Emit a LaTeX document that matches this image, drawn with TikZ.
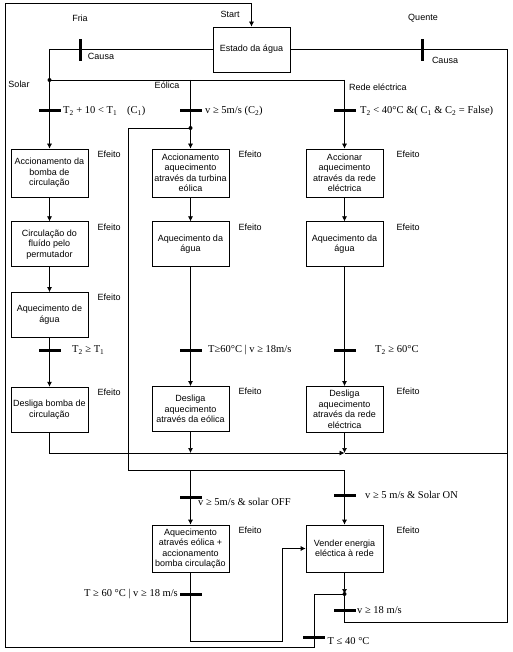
\documentclass[tikz,border=0pt]{standalone}
\usepackage{fontspec}
\setmainfont{Liberation Sans}
\newfontfamily\condfont{Liberation Serif}
\usetikzlibrary{arrows.meta,positioning}

\begin{document}
\begin{tikzpicture}[
  x=1pt, y=-1pt,
  line width=0.7pt,
  box/.style={draw, minimum width=77pt, minimum height=45pt, align=center, inner sep=1pt, font=\fontsize{9}{10.5}\selectfont},
  arr/.style={-{Latex[length=5pt, width=5pt]}},
  tbar/.style={fill, draw=none, minimum width=22pt, minimum height=3pt, inner sep=0pt},
  vtbar/.style={tbar, minimum width=3pt, minimum height=22pt},
  cond/.style={font=\condfont\fontsize{10.5}{12}\selectfont, inner sep=0pt},
  lbl/.style={font=\fontsize{9}{10.5}\selectfont, inner sep=0pt},
  efeito/.style={lbl, anchor=north west},
  jdot/.style={circle, fill, inner sep=0pt, minimum size=4pt}
]
\useasboundingbox (0,0) rectangle (512,652);

% boxes
\node[box] (estado) at (251.5,49.5) {Estado da água};

\node[box, minimum height=48pt] (sol1) at (49.5,173) {Accionamento da\\bomba de\\circulação};
\node[box, below=24pt of sol1] (sol2) {Circulação do\\fluído pelo\\permutador};
\node[box, below=25pt of sol2] (sol3) {Aquecimento de\\água};
\node[box, below=49pt of sol3] (sol4) {Desliga bomba de\\circulação};

\node[box, minimum height=48pt] (eol1) at (190.5,173) {Accionamento\\aquecimento\\através da turbina\\eólica};
\node[box, below=24pt of eol1] (eol2) {Aquecimento da\\água};
\node[box, below=119pt of eol2] (eol4) {Desliga\\aquecimento\\através da eólica};

\node[box, minimum height=48pt] (rede1) at (344.5,173) {Accionar\\aquecimento\\através da rede\\eléctrica};
\node[box, below=24pt of rede1] (rede2) {Aquecimento da\\água};
\node[box, below=119pt of rede2, minimum height=46pt] (rede4) {Desliga\\aquecimento\\através da rede\\eléctrica};

\node[box, minimum height=47pt] (mix) at (190.5,548.5) {Aquecimento\\através eólica +\\accionamento\\bomba circulação};
\node[box, minimum height=47pt] (vender) at (344.5,548.5) {Vender energia\\eléctica à rede};

\foreach \b in {sol1,sol2,sol3,sol4,eol1,eol2,eol4,mix}
  \node[efeito] (ef-\b) at ([xshift=9pt,yshift=-2pt]\b.north east) {Efeito};
\foreach \b in {rede1,rede2,rede4,vender}
  \node[efeito] (ef-\b) at ([xshift=13pt,yshift=-2pt]\b.north east) {Efeito};

% junctions
\coordinate (jsol) at (49.5,80);
\coordinate (jeol) at (190.5,80);
\coordinate (jrede) at (344.5,80);
\coordinate (jc2) at (190.5,128);
\coordinate (kc2) at (128,470);
\coordinate (jmix) at (190.5,470);
\coordinate (jven) at (344.5,470);
\coordinate (jdes) at (344.5,453);
\coordinate (kdes) at (507,453);
\coordinate (kmix) at (282,641);
\coordinate (jv) at (344.5,594);
\coordinate (kbr) at (507,622);
\coordinate (kfb) at (314,647);
\coordinate (kft) at (5,3);

% connectors
\draw (estado.west) -| (jsol);
\draw (jsol) -- (jrede);
\draw[arr] (jsol) -- (sol1);
\draw[arr] (jeol) -- (eol1);
\draw[arr] (jrede) -- (rede1);
\draw[arr] (sol1) -- (sol2);
\draw[arr] (sol2) -- (sol3);
\draw[arr] (sol3) -- (sol4);
\draw[arr] (eol1) -- (eol2);
\draw[arr] (eol2) -- (eol4);
\draw[arr] (rede1) -- (rede2);
\draw[arr] (rede2) -- (rede4);
\draw[arr] (sol4) |- (jdes);
\draw[arr] (eol4) -- (eol4 |- jdes);
\draw[arr] (rede4) -- (jdes);
\draw (jdes) -- (kdes);
\draw (jc2) -| (kc2) -- (jven);
\draw[arr] (jmix) -- (mix);
\draw[arr] (jven) -- (vender);
\draw[arr] (mix) |- (kmix) |- (vender.west);
\draw[arr] (vender) -- (jv);
\draw (jv) |- (kbr) |- (estado.east);
\draw[arr] (jv) -| (kfb) -| (kft) -| (estado.north);

\node[jdot] (d-sol) at (jsol) {};
\node[jdot] (d-c2) at (jc2) {};
\node[jdot] (d-v) at (jv) {};

% transitions
\node[vtbar] (bfria) at (80,50) {};
\node[vtbar] (bquente) at (422,50) {};
\node[tbar] (bsol1) at (49.5,111) {};
\node[tbar] (beol1) at (190.5,111) {};
\node[tbar] (brede1) at (344.5,111) {};
\node[tbar] (bsol3) at (49.5,350) {};
\node[tbar] (beol2) at (190.5,350) {};
\node[tbar] (brede2) at (344.5,350) {};
\node[tbar] (bmix) at (190.5,497) {};
\node[tbar] (bven) at (344.5,495) {};
\node[tbar] (bmixout) at (190.5,594) {};
\node[tbar] (bvout) at (344.5,610) {};
\node[tbar] (btemp) at (314,637) {};

\node[cond, right=2pt of bsol1] (csol1) {T\textsubscript{2} + 10 < T\textsubscript{1}\hspace{10pt}(C\textsubscript{1})};
\node[cond, right=3pt of beol1] (ceol1) {v ≥ 5m/s (C\textsubscript{2})};
\node[cond, right=4pt of brede1] (crede1) {T\textsubscript{2} < 40°C \&( C\textsubscript{1} \& C\textsubscript{2} = False)};
\node[cond, right=11pt of bsol3] (csol3) {T\textsubscript{2} ≥ T\textsubscript{1}};
\node[cond, right=6pt of beol2] (ceol2) {T≥60°C | v ≥ 18m/s};
\node[cond, right=19pt of brede2] (crede2) {T\textsubscript{2} ≥ 60°C};
\node[cond, anchor=west] (cmix) at ([xshift=-4pt,yshift=-5pt]bmix.east) {v ≥ 5m/s \& solar OFF};
\node[cond, right=9pt of bven] (cven) {v ≥ 5 m/s \& Solar ON};
\node[cond, left=1pt of bmixout] (cmixout) {T ≥ 60 °C | v ≥ 18 m/s};
\node[cond, right=1pt of bvout] (cvout) {v ≥ 18 m/s};
\node[cond, anchor=west] (ctemp) at ([xshift=2pt,yshift=-4pt]btemp.east) {T ≤ 40 °C};

% labels
\node[lbl] (lstart) at (230,14) {Start};
\node[lbl] (lfria) at (80,18) {Fria};
\node[lbl] (lquente) at (423,18) {Quente};
\node[lbl] (lcausa1) at (101,56) {Causa};
\node[lbl] (lcausa2) at (445,60) {Causa};
\node[lbl] (lsolar) at (19,84) {Solar};
\node[lbl] (leolica) at (167,85) {Eólica};
\node[lbl] (lrede) at (378,87) {Rede eléctrica};
\end{tikzpicture}
\end{document}
